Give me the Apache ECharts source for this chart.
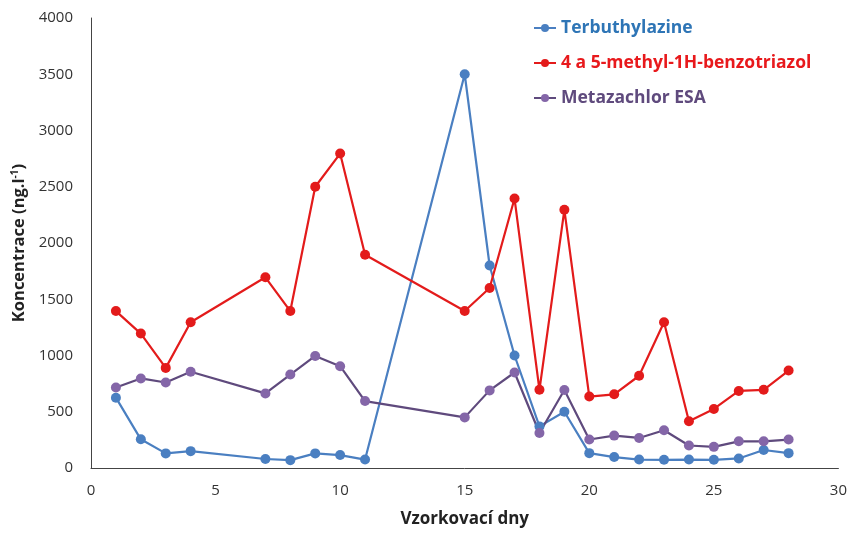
<!DOCTYPE html>
<html><head><meta charset="utf-8">
<script src="https://cdn.jsdelivr.net/npm/echarts@6/dist/echarts.min.js"></script>
<style>html,body{margin:0;padding:0;background:#fff}#c{width:850px;height:533px}</style>
</head><body><div id="c"></div>
<script>
const days = [1,2,3,4,7,8,9,10,11,15,16,17,18,19,20,21,22,23,24,25,26,27,28];
const terbuthylazine = [625,255,130,150,80,70,130,115,75,3500,1800,1000,370,500,132,97,75,73,75,73,85,160,132];
const benzotriazol = [1395,1195,890,1295,1695,1395,2500,2795,1895,1395,1600,2395,695,2295,635,655,820,1295,415,525,685,695,866];
const metazachlor = [716,796,760,855,663,831,996,905,595,450,690,849,311,693,253,288,267,335,200,188,237,237,253];
const seriesNames = ['Terbuthylazine','4 a 5-methyl-1H-benzotriazol','Metazachlor ESA'];
const xTicks = [0,5,10,15,20,25,30];
const yTicks = [0,500,1000,1500,2000,2500,3000,3500,4000];

const pair = arr => days.map((d,i)=>[d,arr[i]]);
const chart = echarts.init(document.getElementById('c'));
const font = '"Open Sans", "Liberation Sans", sans-serif';
function mk(name, data, lineColor, markColor){
  return {name, type:'line', data:pair(data), symbol:'circle', symbolSize:10,
    lineStyle:{color:lineColor,width:2.2}, itemStyle:{color:markColor}, color:markColor};
}
chart.setOption({
  animation:false,
  textStyle:{fontFamily:font},
  grid:{left:91,right:9,top:18,bottom:61,containLabel:false},
  legend:{orient:'vertical',left:533,top:19,padding:0,itemGap:17,itemWidth:22,itemHeight:10,
    data:[
      {name:seriesNames[0],textStyle:{color:'#2e75b6'}},
      {name:seriesNames[1],textStyle:{color:'#e8191c'}},
      {name:seriesNames[2],textStyle:{color:'#5f4a7d'}}
    ],
    textStyle:{fontSize:17.5,fontWeight:'bold',fontFamily:font}},
  xAxis:{type:'value',min:xTicks[0],max:xTicks[xTicks.length-1],interval:5,
    name:'Vzorkovací dny',nameLocation:'middle',nameGap:43,
    nameTextStyle:{fontSize:17,fontWeight:'bold',color:'#222',fontFamily:font},
    axisLine:{lineStyle:{color:'#444',width:1}},axisTick:{show:false},splitLine:{show:false},
    axisLabel:{fontSize:15,color:'#333',margin:15}},
  yAxis:{type:'value',min:yTicks[0],max:yTicks[yTicks.length-1],interval:500,
    name:'{a|Koncentrace (ng.l}{s|-1}{a|)}',nameLocation:'middle',nameGap:62,
    nameTextStyle:{rich:{a:{fontSize:16.5,fontWeight:'bold',color:'#222',fontFamily:font},
      s:{fontSize:10,fontWeight:'bold',color:'#222',verticalAlign:'top',padding:[0,0,8,0],fontFamily:font}}},
    axisLine:{show:true,lineStyle:{color:'#444',width:1}},axisTick:{show:false},splitLine:{show:false},
    axisLabel:{fontSize:15,color:'#333',margin:18,formatter:v=>String(v)}},
  series:[
    mk(seriesNames[0],terbuthylazine,'#4a7fc1','#4a7fc1'),
    mk(seriesNames[1],benzotriazol,'#e31b1b','#e31b1b'),
    mk(seriesNames[2],metazachlor,'#5f4a7d','#8466a8')
  ]
});
</script></body></html>
